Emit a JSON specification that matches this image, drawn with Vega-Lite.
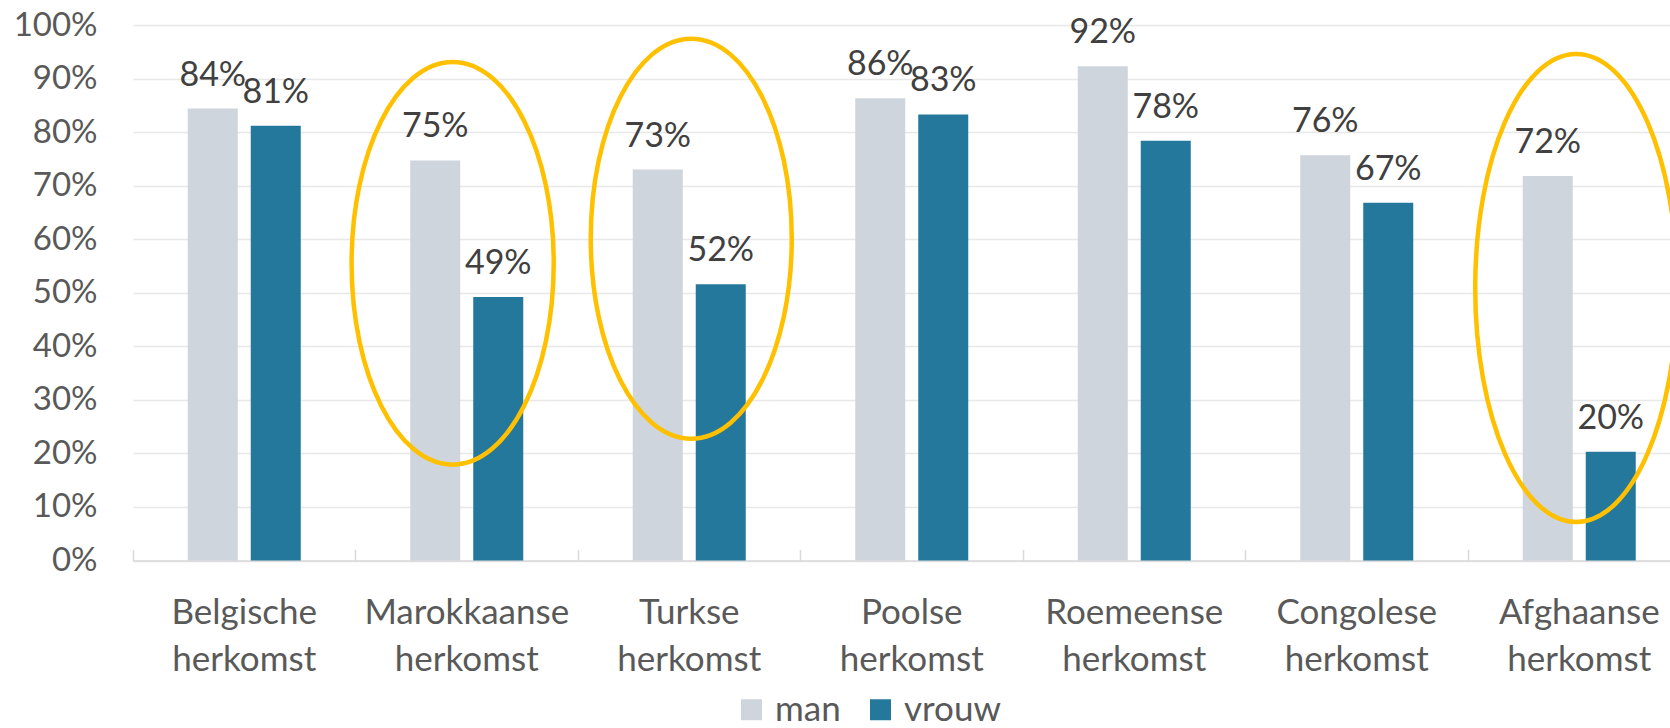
{
  "$schema": "https://vega.github.io/schema/vega-lite/v6.json",
  "width": 1537,
  "height": 535.5,
  "autosize": {"type": "none"},
  "padding": {"left": 133, "top": 25, "right": 0, "bottom": 167.5},
  "background": "white",
  "config": {"view": {"stroke": null}, "font": "Lato"},
  "datasets": {
    "bars": [
      {"origin": "Belgische herkomst", "sex": "man", "value": 0.844},
      {"origin": "Belgische herkomst", "sex": "vrouw", "value": 0.812},
      {"origin": "Marokkaanse herkomst", "sex": "man", "value": 0.747},
      {"origin": "Marokkaanse herkomst", "sex": "vrouw", "value": 0.492},
      {"origin": "Turkse herkomst", "sex": "man", "value": 0.730},
      {"origin": "Turkse herkomst", "sex": "vrouw", "value": 0.516},
      {"origin": "Poolse herkomst", "sex": "man", "value": 0.863},
      {"origin": "Poolse herkomst", "sex": "vrouw", "value": 0.833},
      {"origin": "Roemeense herkomst", "sex": "man", "value": 0.923},
      {"origin": "Roemeense herkomst", "sex": "vrouw", "value": 0.784},
      {"origin": "Congolese herkomst", "sex": "man", "value": 0.757},
      {"origin": "Congolese herkomst", "sex": "vrouw", "value": 0.668},
      {"origin": "Afghaanse herkomst", "sex": "man", "value": 0.718},
      {"origin": "Afghaanse herkomst", "sex": "vrouw", "value": 0.203}
    ],
    "rings": [
      {"origin": "Marokkaanse herkomst", "mid": 0.555, "span": 0.752},
      {"origin": "Turkse herkomst", "mid": 0.601, "span": 0.747},
      {"origin": "Afghaanse herkomst", "mid": 0.509, "span": 0.874}
    ]
  },
  "encoding": {
    "x": {
      "field": "origin",
      "type": "nominal",
      "title": null,
      "scale": {
        "domain": ["Belgische herkomst", "Marokkaanse herkomst", "Turkse herkomst", "Poolse herkomst", "Roemeense herkomst", "Congolese herkomst", "Afghaanse herkomst"],
        "range": [0, 1557.5],
        "paddingInner": 0,
        "paddingOuter": 0
      },
      "axis": {
        "labelExpr": "split(datum.label, ' ')",
        "labelFont": "Lato",
        "labelFontSize": 35,
        "labelColor": "#595959",
        "labelLineHeight": 47,
        "labelPadding": 46,
        "labelLimit": 0,
        "labelAngle": 0,
        "bandPosition": 0,
        "tickSize": -11,
        "tickColor": "#d9d9d9",
        "tickWidth": 1.5,
        "domainColor": "#d9d9d9",
        "domainWidth": 1.5,
        "grid": false
      }
    },
    "y": {
      "type": "quantitative",
      "title": null,
      "scale": {"domain": [0, 1], "nice": false},
      "axis": {
        "format": ".0%",
        "values": [0, 0.1, 0.2, 0.3, 0.4, 0.5, 0.6, 0.7, 0.8, 0.9, 1],
        "labelFont": "Lato",
        "labelFontSize": 33,
        "labelColor": "#595959",
        "labelPadding": 36,
        "ticks": false,
        "domain": false,
        "grid": true,
        "gridColor": "#e8e8e8",
        "gridWidth": 1.5
      }
    }
  },
  "layer": [
    {
      "data": {"name": "bars"},
      "mark": {"type": "bar"},
      "encoding": {
        "xOffset": {"field": "sex", "type": "nominal", "sort": ["man", "vrouw"], "scale": {"paddingInner": 0.2063, "paddingOuter": 0.869}},
        "y": {"field": "value"},
        "color": {
          "field": "sex",
          "type": "nominal",
          "scale": {"domain": ["man", "vrouw"], "range": ["#CED5DD", "#24789C"]},
          "legend": {
            "title": null,
            "orient": "none",
            "direction": "horizontal",
            "legendX": 601,
            "legendY": 667,
            "padding": 0,
            "symbolType": "square",
            "symbolSize": 441,
            "symbolStrokeWidth": 0,
            "labelFont": "Lato",
            "labelFontSize": 35,
            "labelColor": "#595959",
            "labelOffset": 6,
            "columnPadding": 22
          }
        }
      }
    },
    {
      "data": {"name": "bars"},
      "mark": {"type": "text", "dy": -23, "baseline": "alphabetic", "font": "Lato", "fontSize": 34, "color": "#404040"},
      "encoding": {
        "xOffset": {"field": "sex", "type": "nominal", "sort": ["man", "vrouw"]},
        "y": {"field": "value"},
        "text": {"field": "value", "type": "quantitative", "format": ".0%"}
      }
    },
    {
      "data": {"name": "rings"},
      "mark": {"type": "point", "filled": false, "strokeWidth": 4.5, "color": "#FFC000", "opacity": 1},
      "encoding": {
        "y": {"field": "mid"},
        "shape": {
          "field": "origin",
          "type": "nominal",
          "legend": null,
          "scale": {
            "domain": ["Marokkaanse herkomst", "Turkse herkomst", "Afghaanse herkomst"],
            "range": [
              "M-0.07,-1C0.2073,-1 0.432,-0.5523 0.432,0C0.432,0.5523 0.2073,1 -0.07,1C-0.3473,1 -0.572,0.5523 -0.572,0C-0.572,-0.5523 -0.3473,-1 -0.07,-1Z",
              "M0.01,-1C0.2875,-1 0.5125,-0.5523 0.5125,0C0.5125,0.5523 0.2875,1 0.01,1C-0.2675,1 -0.4925,0.5523 -0.4925,0C-0.4925,-0.5523 -0.2675,-1 0.01,-1Z",
              "M-0.013,-1C0.2254,-1 0.4186,-0.5523 0.4186,0C0.4186,0.5523 0.2254,1 -0.013,1C-0.2514,1 -0.4446,0.5523 -0.4446,0C-0.4446,-0.5523 -0.2514,-1 -0.013,-1Z"
            ]
          }
        },
        "size": {
          "field": "span",
          "type": "quantitative",
          "legend": null,
          "scale": {"type": "pow", "exponent": 2, "domain": [0, 1], "range": [0, 286760]}
        }
      }
    }
  ]
}
